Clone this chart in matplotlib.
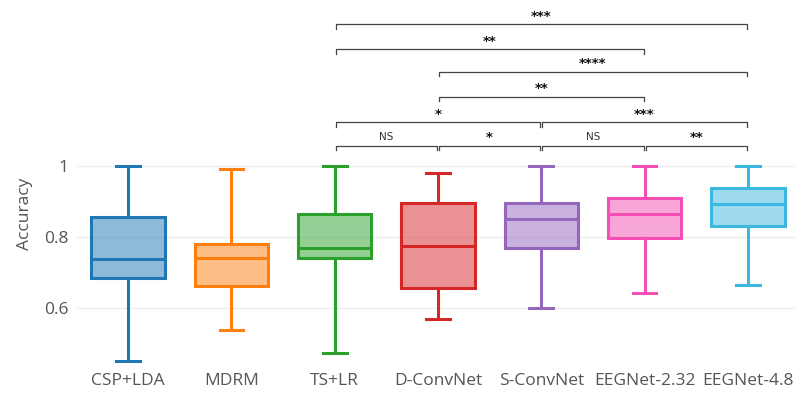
import matplotlib.pyplot as plt

plt.rcParams['font.family'] = ['Open Sans', 'DejaVu Sans']

# Data
models = ["CSP+LDA", "MDRM", "TS+LR", "D-ConvNet", "S-ConvNet", "EEGNet-2.32", "EEGNet-4.8"]
whislo = [0.453, 0.539, 0.474, 0.570, 0.600, 0.643, 0.665]
q1 = [0.685, 0.663, 0.742, 0.658, 0.768, 0.798, 0.832]
med = [0.739, 0.742, 0.768, 0.775, 0.850, 0.865, 0.894]
q3 = [0.855, 0.780, 0.866, 0.897, 0.896, 0.911, 0.939]
whishi = [1.0, 0.99, 1.0, 0.981, 1.0, 1.0, 1.0]
colors = ["#1f77b4", "#ff7f0e", "#2ca02c", "#d62728", "#9467bd", "#f44fb4", "#3cb7df"]

# significance brackets: (left index, right index, level, label, label x)
brackets = [
    (2, 3, 1.056, "NS", 2.5), (3, 4, 1.056, "*", 3.5),
    (4, 5, 1.056, "NS", 4.5), (5, 6, 1.056, "**", 5.5),
    (2, 4, 1.123, "*", 3.0), (4, 6, 1.123, "***", 5.0),
    (3, 5, 1.194, "**", 4.0),
    (3, 6, 1.264, "****", 4.5),
    (2, 5, 1.327, "**", 3.5),
    (2, 6, 1.397, "***", 4.0),
]

fig = plt.figure(figsize=(7.95, 3.97), dpi=100)
ax = fig.add_axes([76.5 / 795, 1 - 369 / 397, 723 / 795, 369 / 397])

stats = []
for i in range(len(models)):
    stats.append({"whislo": whislo[i], "q1": q1[i], "med": med[i], "q3": q3[i],
                  "whishi": whishi[i], "label": models[i]})

bp = ax.bxp(stats, positions=range(len(models)), widths=0.71, showfliers=False,
            patch_artist=True, zorder=3)
for i, c in enumerate(colors):
    bp["boxes"][i].set(facecolor=c + "80", edgecolor=c, linewidth=2.2)
    bp["medians"][i].set(color=c, linewidth=2.2)
    for w in bp["whiskers"][2 * i:2 * i + 2]:
        w.set(color=c, linewidth=2.2)
    for cap in bp["caps"][2 * i:2 * i + 2]:
        cap.set(color=c, linewidth=2.2)
        x0, x1 = cap.get_xdata()
        mid = (x0 + x1) / 2
        cap.set_xdata([mid - 0.115, mid + 0.115])

# brackets
for a, b, lev, lab, tx in brackets:
    drop = 0.013
    ax.plot([a + 0.01, a + 0.01, b - 0.01, b - 0.01], [lev - drop, lev, lev, lev - drop],
            color="#444444", linewidth=0.9, clip_on=False)
    if lab == "NS":
        ax.text(tx, lev + 0.012, lab, ha="center", va="bottom", fontsize=7.5,
                color="#333333", family="DejaVu Sans")
    else:
        ax.text(tx, lev + 0.004, lab, ha="center", va="bottom", fontsize=9.5,
                fontweight="bold", color="#111111", family="DejaVu Sans")

ax.set_xlim(-0.5, 6.5)
ax.set_ylim(0.43, 1.465)
ax.set_yticks([0.6, 0.8, 1.0])
ax.set_yticklabels(["0.6", "0.8", "1"])
ax.set_xticks(range(len(models)))
ax.set_xticklabels(models)
ax.tick_params(axis="both", length=0, labelsize=12.5, colors="#555555")
ax.tick_params(axis="x", pad=3)
ax.tick_params(axis="y", pad=6)
ax.set_ylabel("Accuracy", fontsize=12.5, color="#555555")
ax.yaxis.set_label_coords(-0.06, 0.42)
ax.grid(axis="y", color="#eeeeee", linewidth=1)
ax.set_axisbelow(True)
for s in ax.spines.values():
    s.set_visible(False)

fig.savefig("out.png", dpi=100)
